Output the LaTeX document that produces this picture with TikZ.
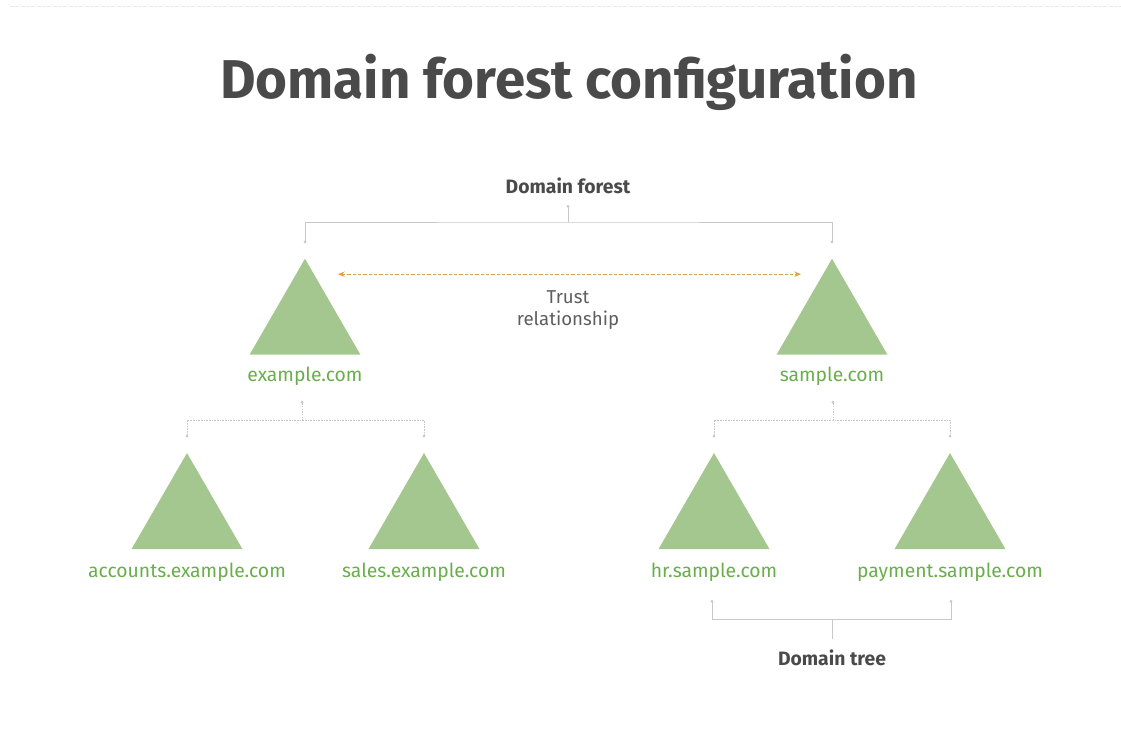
\documentclass[tikz,border=0pt]{standalone}
\usepackage{fontspec}
\setmainfont{Fira Sans}
\usetikzlibrary{shapes.geometric,arrows.meta,calc}
\definecolor{tgreen}{HTML}{A3C78F}
\definecolor{lgreen}{HTML}{6AAE4C}
\definecolor{dark}{HTML}{4A4A4A}
\definecolor{mid}{HTML}{5E5E5E}
\definecolor{conn}{HTML}{C8C8C8}
\definecolor{trust}{HTML}{D6A246}
\definecolor{rule}{HTML}{E8E8E8}
\begin{document}
\begin{tikzpicture}[x=0.75pt,y=-0.75pt,
  tri/.style={regular polygon, regular polygon sides=3, fill=tgreen, minimum size=96pt, inner sep=0pt},
  dom/.style={text=lgreen, font=\fontsize{14.5}{17}\selectfont, inner sep=0pt, anchor=center},
  lbl/.style={text=dark, font=\bfseries\fontsize{14.5}{17}\selectfont, inner sep=0pt},
  conline/.style={draw=conn, line width=0.7pt},
  dotline/.style={draw=conn, line width=0.7pt, dash pattern=on 1.2pt off 0.8pt},
  tiptwo/.style={{Circle[length=2pt]}-{Circle[length=2pt]}}
]
\useasboundingbox (0,0) rectangle (1121,729);
\draw[draw=rule, line width=0.6pt, dash pattern=on 3pt off 1pt] (10,6) -- (1121,6);

\node[text=dark, font=\bfseries\fontsize{41}{46}\selectfont, inner sep=0pt] (title) at (569,82) {Domain forest configuration};

\node[lbl] (df) at (568,186) {Domain forest};

\node[tri] (t1) at (305,322.7) {};
\node[tri] (t2) at (832,322.7) {};
\node[tri] (t3) at (187,517) {};
\node[tri] (t4) at (424,517) {};
\node[tri] (t5) at (714,517) {};
\node[tri] (t6) at (950,517) {};

\node[dom] (l1) at (305,376) {example.com};
\node[dom] (l2) at (832,376) {sample.com};
\node[dom] (l3) at (187,572) {accounts.example.com};
\node[dom] (l4) at (424,572) {sales.example.com};
\node[dom] (l5) at (714,572) {hr.sample.com};
\node[dom] (l6) at (950,572) {payment.sample.com};

\node[text=mid, font=\fontsize{14}{16.5}\selectfont, align=center, inner sep=0pt] (tr) at (568,310) {Trust\\relationship};

\node[lbl] (dt) at (832,658) {Domain tree};

% Domain forest bracket
\coordinate (fa) at (568,205);
\coordinate (fb) at (568,222);
\draw[conline, {Circle[length=2pt]}-] (fa) -- (fb);
\draw[conline, tiptwo] ($(t1.corner 1)+(0,-15)$) |- (fb) -| ($(t2.corner 1)+(0,-15)$);

% Trust relationship
\draw[draw=trust, line width=0.8pt, dash pattern=on 2.5pt off 1.5pt,
  {Stealth[length=5pt,width=4pt]}-{Stealth[length=5pt,width=4pt]}]
  ($(t1.corner 1)+(33,16)$) -- ($(t2.corner 1)+(-31,16)$);

% Sub brackets
\coordinate (sa) at (302,401);
\coordinate (sb) at (302,420);
\draw[dotline, {Circle[length=2pt]}-] (sa) -- (sb);
\draw[dotline, tiptwo] ($(t3.corner 1)+(0,-15)$) |- (sb) -| ($(t4.corner 1)+(0,-15)$);

\coordinate (sc) at (833,401);
\coordinate (sd) at (833,420);
\draw[dotline, {Circle[length=2pt]}-] (sc) -- (sd);
\draw[dotline, tiptwo] ($(t5.corner 1)+(0,-15)$) |- (sd) -| ($(t6.corner 1)+(0,-15)$);

% Domain tree bracket
\coordinate (ta) at (832,619);
\draw[conline] (ta) -- ($(dt.north)+(0,-11)$);
\draw[conline, tiptwo] (712,600) |- (ta) -| (951,600);
\end{tikzpicture}
\end{document}
